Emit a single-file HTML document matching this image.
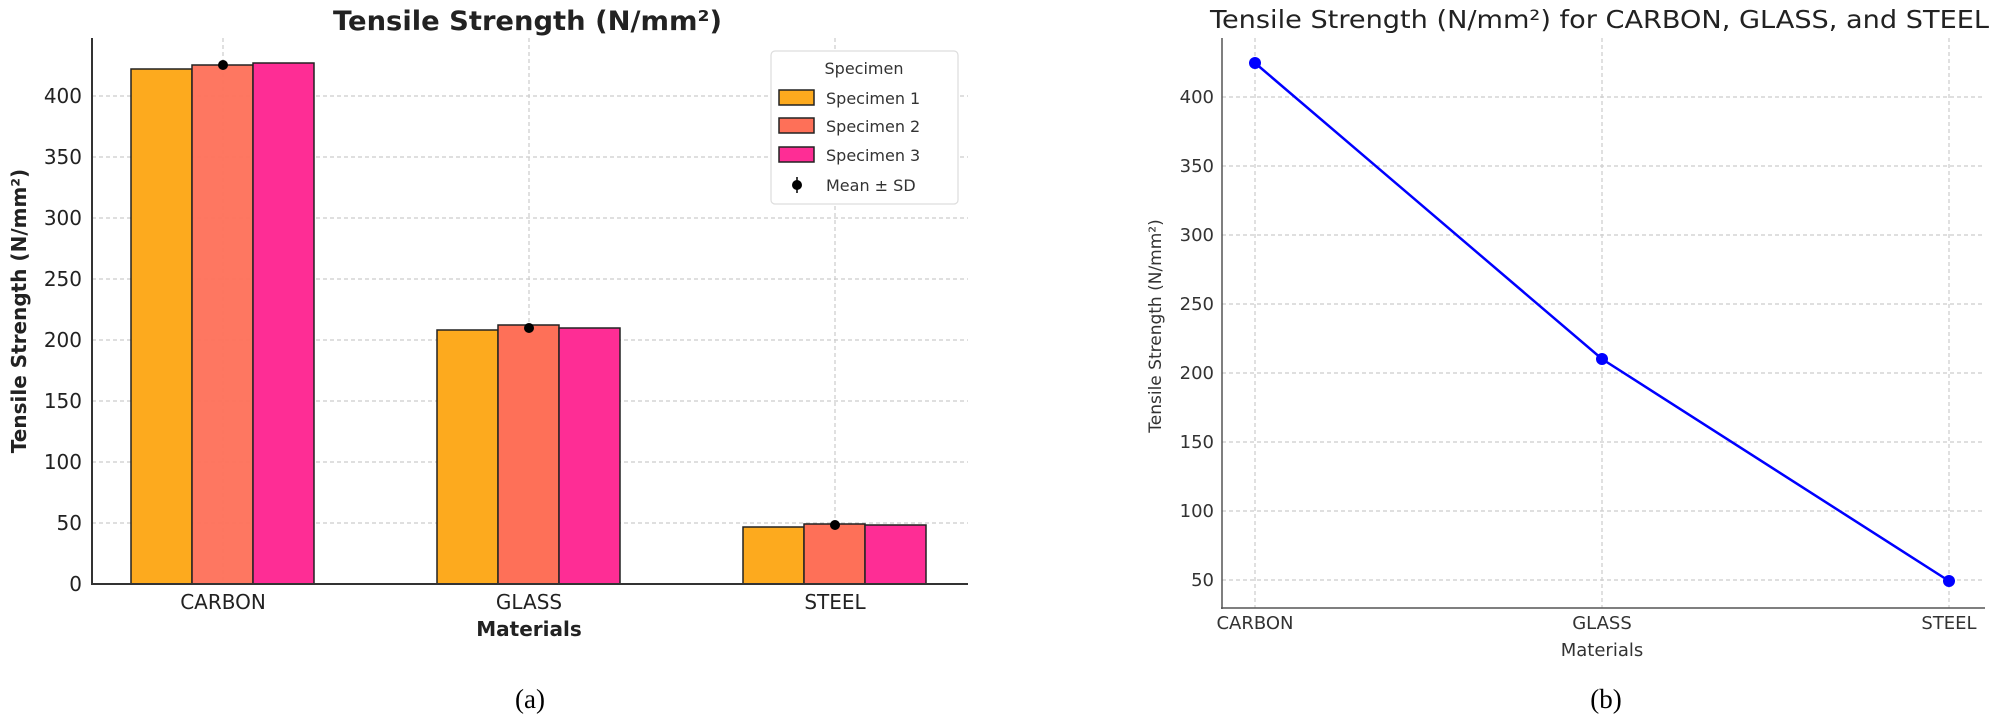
<!DOCTYPE html>
<html><head><meta charset="utf-8"><style>
html,body{margin:0;padding:0;background:#fff;}
svg{display:block;font-family:"DejaVu Sans","Liberation Sans",sans-serif;}
</style></head><body>
<svg width="2000" height="721" viewBox="0 0 2000 721" xmlns="http://www.w3.org/2000/svg">
<!-- LEFT CHART -->
<g stroke="#ccc" stroke-width="1.2" stroke-dasharray="4,3">
<line x1="92" x2="968" y1="523" y2="523"/><line x1="92" x2="968" y1="462" y2="462"/>
<line x1="92" x2="968" y1="401" y2="401"/><line x1="92" x2="968" y1="340" y2="340"/>
<line x1="92" x2="968" y1="279" y2="279"/><line x1="92" x2="968" y1="218" y2="218"/>
<line x1="92" x2="968" y1="157" y2="157"/><line x1="92" x2="968" y1="96" y2="96"/>
<line x1="223" x2="223" y1="38" y2="584"/><line x1="529" x2="529" y1="38" y2="584"/><line x1="835" x2="835" y1="38" y2="584"/>
</g>
<g stroke="#222" stroke-width="1.5">
<rect x="131" y="69" width="61" height="515" fill="#FDAA1E"/>
<rect x="192" y="65" width="61" height="519" fill="#FE7058" fill-opacity="0.95"/>
<rect x="253" y="63" width="61" height="521" fill="#FE2D95"/>
<rect x="437" y="330" width="61" height="254" fill="#FDAA1E"/>
<rect x="498" y="325" width="61" height="259" fill="#FE7058"/>
<rect x="559" y="328" width="61" height="256" fill="#FE2D95"/>
<rect x="743" y="527" width="61" height="57" fill="#FDAA1E"/>
<rect x="804" y="524" width="61" height="60" fill="#FE7058"/>
<rect x="865" y="525" width="61" height="59" fill="#FE2D95"/>
</g>
<g fill="#000"><circle cx="223" cy="65" r="5"/><circle cx="529" cy="328" r="5"/><circle cx="835" cy="525" r="5"/></g>
<line x1="92" x2="92" y1="38" y2="585" stroke="#333" stroke-width="2"/>
<line x1="91" x2="968" y1="584" y2="584" stroke="#333" stroke-width="2"/>
<g font-size="20" fill="#222" text-anchor="end">
<text x="82" y="591">0</text><text x="82" y="530">50</text><text x="82" y="469">100</text><text x="82" y="408">150</text>
<text x="82" y="347">200</text><text x="82" y="286">250</text><text x="82" y="225">300</text><text x="82" y="164">350</text><text x="82" y="103">400</text>
</g>
<g font-size="20" fill="#222" text-anchor="middle">
<text x="223" y="609">CARBON</text><text x="529" y="609">GLASS</text><text x="835" y="609">STEEL</text>
</g>
<text x="529" y="636" font-size="20" font-weight="bold" text-anchor="middle" fill="#222">Materials</text>
<text x="333" y="30" font-size="27" font-weight="bold" fill="#222" textLength="389" lengthAdjust="spacingAndGlyphs">Tensile Strength (N/mm²)</text>
<text transform="translate(26,311) rotate(-90)" font-size="20" font-weight="bold" text-anchor="middle" fill="#222">Tensile Strength (N/mm²)</text>
<!-- legend -->
<rect x="771" y="51" width="187" height="153" rx="4" fill="#fff" stroke="#ddd" stroke-width="1.2"/>
<text x="864" y="74" font-size="16" text-anchor="middle" fill="#333">Specimen</text>
<g stroke="#222" stroke-width="1.5">
<rect x="779" y="90" width="35" height="15" fill="#FDAA1E"/>
<rect x="779" y="118" width="35" height="15" fill="#FE7058"/>
<rect x="779" y="147" width="35" height="15" fill="#FE2D95"/>
</g>
<line x1="797" x2="797" y1="177" y2="193" stroke="#000" stroke-width="1.5"/>
<circle cx="797" cy="185" r="5" fill="#000"/>
<g font-size="16" fill="#333">
<text x="826" y="104">Specimen 1</text><text x="826" y="132">Specimen 2</text><text x="826" y="161">Specimen 3</text><text x="826" y="191">Mean ± SD</text>
</g>
<!-- RIGHT CHART -->
<g stroke="#ccc" stroke-width="1.2" stroke-dasharray="4,3">
<line x1="1222" x2="1985" y1="580" y2="580"/><line x1="1222" x2="1985" y1="511" y2="511"/>
<line x1="1222" x2="1985" y1="442" y2="442"/><line x1="1222" x2="1985" y1="373" y2="373"/>
<line x1="1222" x2="1985" y1="304" y2="304"/><line x1="1222" x2="1985" y1="235" y2="235"/>
<line x1="1222" x2="1985" y1="166" y2="166"/><line x1="1222" x2="1985" y1="97" y2="97"/>
<line x1="1255" x2="1255" y1="38" y2="608"/><line x1="1602" x2="1602" y1="38" y2="608"/><line x1="1949" x2="1949" y1="38" y2="608"/>
</g>
<line x1="1222" x2="1222" y1="38" y2="609" stroke="#555" stroke-width="1.5"/>
<line x1="1221" x2="1985" y1="608" y2="608" stroke="#555" stroke-width="1.5"/>
<polyline points="1255,63 1602,359 1949,581" fill="none" stroke="#0000FF" stroke-width="2.5"/>
<g fill="#0000FF"><circle cx="1255" cy="63" r="6"/><circle cx="1602" cy="359" r="6"/><circle cx="1949" cy="581" r="6"/></g>
<g font-size="18" fill="#333" text-anchor="end">
<text x="1214" y="586">50</text><text x="1214" y="517">100</text><text x="1214" y="448">150</text><text x="1214" y="379">200</text>
<text x="1214" y="310">250</text><text x="1214" y="241">300</text><text x="1214" y="172">350</text><text x="1214" y="103">400</text>
</g>
<g font-size="18" fill="#333" text-anchor="middle">
<text x="1255" y="629">CARBON</text><text x="1602" y="629">GLASS</text><text x="1949" y="629">STEEL</text>
<text x="1602" y="656">Materials</text>
</g>
<text x="1210" y="28" font-size="25" fill="#222" textLength="779" lengthAdjust="spacingAndGlyphs">Tensile Strength (N/mm²) for CARBON, GLASS, and STEEL</text>
<text transform="translate(1161,326) rotate(-90)" font-size="17" text-anchor="middle" fill="#333">Tensile Strength (N/mm²)</text>
<!-- captions -->
<g font-family="Liberation Serif,serif" font-size="27" fill="#000" text-anchor="middle">
<text x="530" y="708">(a)</text><text x="1606" y="708">(b)</text>
</g>
</svg>
</body></html>
